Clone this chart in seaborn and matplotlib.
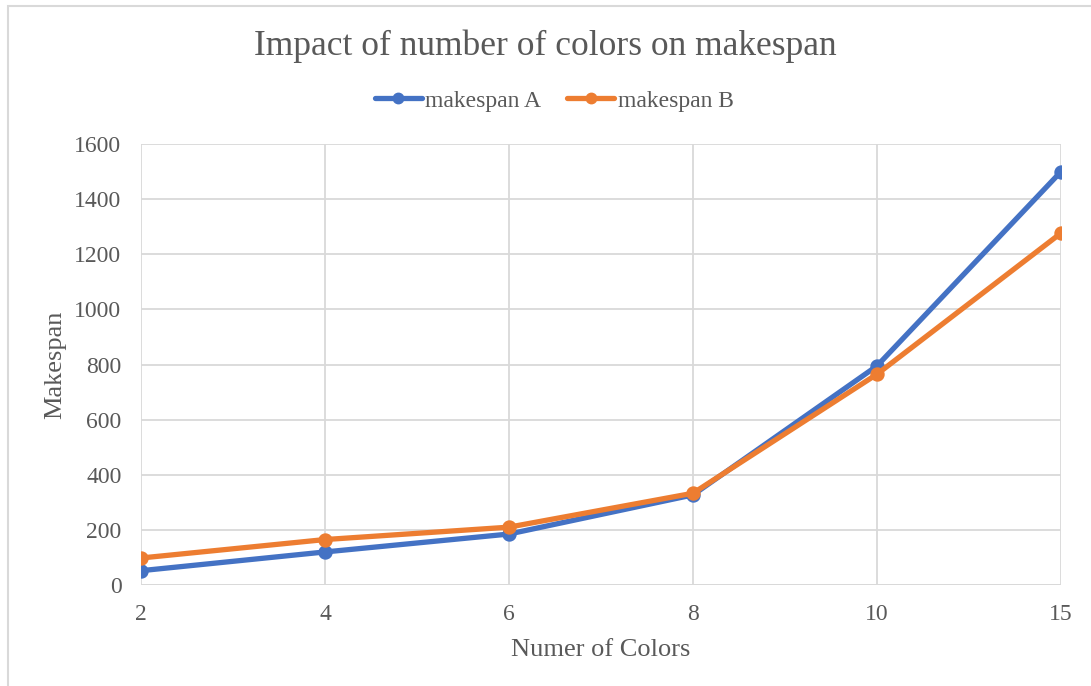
import matplotlib
matplotlib.use("Agg")
import matplotlib.pyplot as plt
import seaborn as sns
import pandas as pd
from matplotlib.lines import Line2D
from matplotlib.patches import Rectangle

colors_n = ["2", "4", "6", "8", "10", "15"]
makespan_a = [52, 120, 185, 327, 795, 1500]
makespan_b = [98, 165, 210, 333, 765, 1277]
series_names = ["makespan A", "makespan B"]
palette = ["#4472C4", "#ED7D31"]

df = pd.DataFrame({
    "Colors": colors_n * 2,
    "Makespan": makespan_a + makespan_b,
    "Series": [series_names[0]] * len(colors_n) + [series_names[1]] * len(colors_n),
})

sns.set_theme(style="white")
plt.rcParams["font.family"] = ["Liberation Serif", "DejaVu Serif"]
txt = "#595959"

fig = plt.figure(figsize=(10.91, 6.86), dpi=100)
ax = fig.add_axes([0.1292, 0.1472, 0.8433, 0.6428])

sns.pointplot(data=df, x="Colors", y="Makespan", hue="Series", order=colors_n,
              hue_order=series_names, palette=palette, ax=ax,
              linewidth=3.8, markersize=7.5, markers="o", legend=False, zorder=3)

ax.set_xlim(0, len(colors_n) - 1)
ax.set_ylim(0, 1600)
ax.set_yticks(range(0, 1601, 200))
ax.grid(True, color="#D9D9D9", linewidth=1.3, zorder=0)
ax.set_axisbelow(True)
for s in ax.spines.values():
    s.set_visible(False)
ax.axhline(0, color="#D9D9D9", linewidth=1.3, zorder=1)
ax.tick_params(axis="both", length=0, labelsize=17, labelcolor=txt)
ax.tick_params(axis="x", pad=14)
ax.tick_params(axis="y", pad=14)
ax.set_xlabel("Numer of Colors", fontsize=19, color=txt, labelpad=10)
ax.set_ylabel("Makespan", fontsize=19, color=txt, labelpad=6)

fig.text(0.5, 0.933, "Impact of number of colors on makespan", ha="center", va="center",
         fontsize=25.5, color=txt)

handles = [Line2D([0], [0], color=c, lw=3.8, marker="o", markersize=7.5) for c in palette]
fig.legend(handles, series_names, loc="center", bbox_to_anchor=(0.508, 0.853), ncol=2,
           frameon=False, fontsize=17, handlelength=2.0, handletextpad=0.15,
           columnspacing=1.1, labelcolor=txt)

fig.patches.append(Rectangle((8 / 1091, -0.05), 1.1, 1.05 - 6 / 686, transform=fig.transFigure,
                             fill=False, edgecolor="#D9D9D9", linewidth=1.5))

fig.savefig("out.png", dpi=100)
